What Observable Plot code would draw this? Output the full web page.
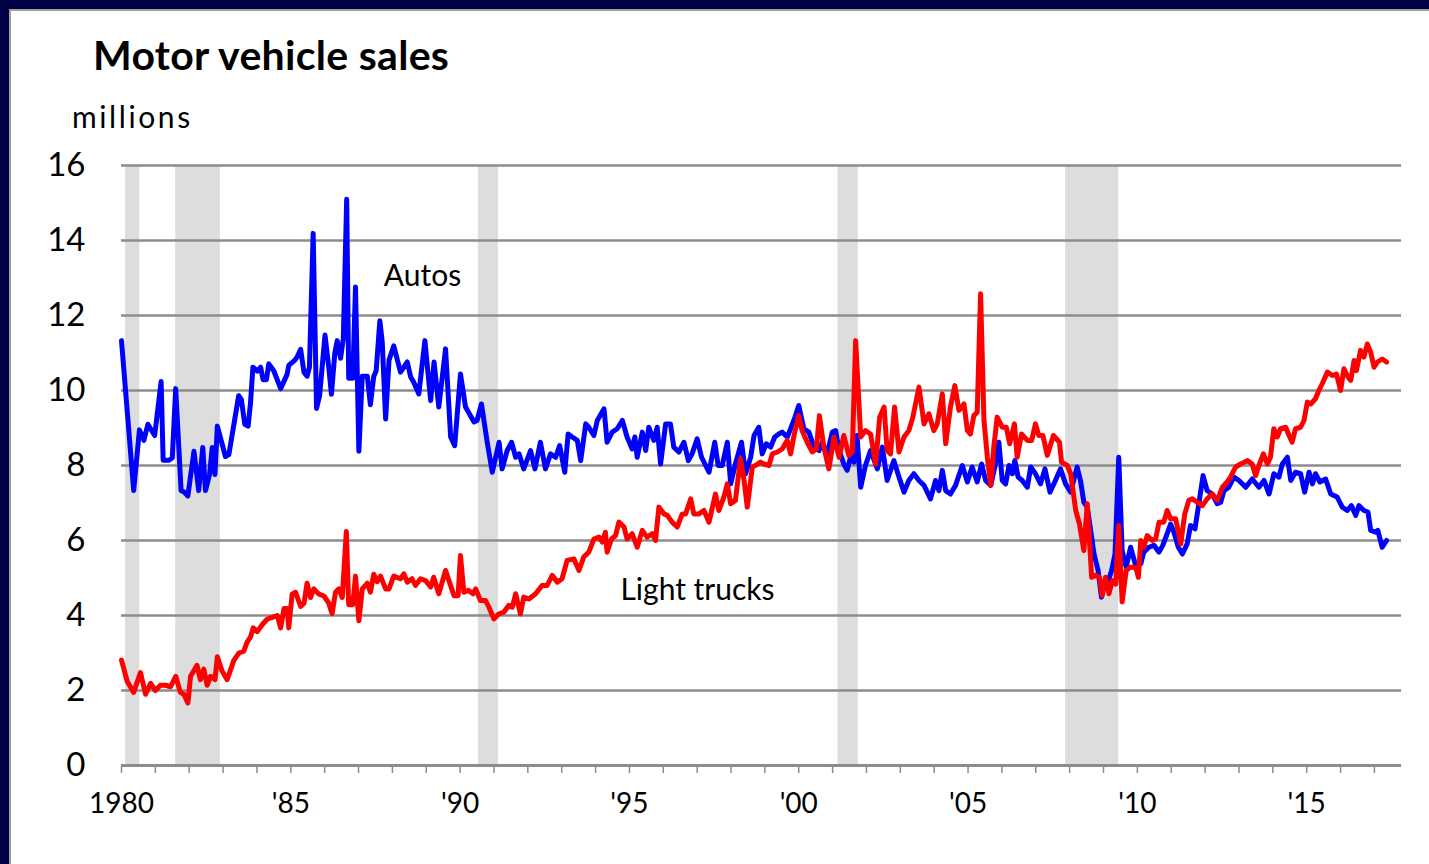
<!DOCTYPE html>
<html>
<head>
<meta charset="utf-8">
<script src="https://cdn.jsdelivr.net/npm/d3@7"></script>
<script src="https://cdn.jsdelivr.net/npm/@observablehq/plot@0.6"></script>
<style>
  html, body { margin: 0; padding: 0; width: 1429px; height: 864px; overflow: hidden; background: #000046; }
  #panel { position: absolute; left: 9px; top: 9px; width: 1418px; height: 853px; background: #ffffff;
           border-top: 2px solid #a0a0a0; border-left: 2px solid #a0a0a0; }
  #chart { position: absolute; left: 0; top: 0; }
  #title { position: absolute; left: 93px; top: 34px; font: bold 41px Lato, sans-serif; line-height: 1; color: #000; letter-spacing: 0.3px; white-space: nowrap; }
  #unit { position: absolute; left: 72px; top: 101px; font: 30px Lato, sans-serif; line-height: 1; color: #000; letter-spacing: 2.6px; white-space: nowrap; }
</style>
</head>
<body>
<div id="panel"></div>
<div id="chart"></div>
<div id="title">Motor vehicle sales</div>
<div id="unit">millions</div>
<script>
// ---- data (decimal years, millions of units, SAAR) ----
const autosYear = [
  1980.00,1980.36,1980.53,1980.66,1980.78,1980.98,1981.17,1981.23,1981.40,1981.50,
  1981.60,1981.76,1981.84,1981.96,1982.14,1982.28,1982.40,1982.48,1982.60,1982.68,
  1982.76,1982.83,1983.07,1983.17,1983.32,1983.46,1983.54,1983.64,1983.74,1983.81,
  1983.88,1984.01,1984.11,1984.18,1984.28,1984.35,1984.50,1984.70,1984.89,1984.94,
  1985.12,1985.19,1985.29,1985.39,1985.48,1985.55,1985.66,1985.76,1985.85,1986.01,
  1986.12,1986.20,1986.30,1986.37,1986.47,1986.55,1986.65,1986.71,1986.83,1986.91,
  1987.01,1987.11,1987.26,1987.35,1987.45,1987.52,1987.63,1987.70,1987.80,1987.90,
  1988.04,1988.24,1988.44,1988.54,1988.63,1988.78,1988.96,1989.13,1989.23,1989.37,
  1989.57,1989.72,1989.84,1990.01,1990.16,1990.41,1990.50,1990.63,1990.80,1990.95,
  1991.15,1991.24,1991.39,1991.52,1991.64,1991.74,1991.88,1992.08,1992.21,1992.37,
  1992.52,1992.67,1992.82,1992.94,1993.09,1993.19,1993.31,1993.46,1993.56,1993.71,
  1993.80,1993.95,1994.05,1994.25,1994.34,1994.49,1994.64,1994.79,1994.93,1995.08,
  1995.16,1995.23,1995.38,1995.48,1995.57,1995.72,1995.82,1995.92,1996.07,1996.21,
  1996.31,1996.46,1996.61,1996.74,1996.85,1997.00,1997.13,1997.35,1997.52,1997.62,
  1997.74,1997.89,1997.99,1998.13,1998.31,1998.43,1998.58,1998.68,1998.82,1998.92,
  1999.04,1999.17,1999.29,1999.41,1999.51,1999.66,1999.76,1999.89,2000.00,2000.15,
  2000.30,2000.45,2000.60,2000.69,2000.84,2000.99,2001.09,2001.19,2001.33,2001.43,
  2001.53,2001.63,2001.72,2001.83,2001.97,2002.12,2002.32,2002.47,2002.61,2002.81,
  2002.96,2003.11,2003.25,2003.40,2003.55,2003.70,2003.89,2004.04,2004.14,2004.24,
  2004.34,2004.48,2004.63,2004.83,2004.98,2005.12,2005.27,2005.40,2005.52,2005.67,
  2005.79,2005.91,2006.01,2006.11,2006.21,2006.31,2006.38,2006.48,2006.60,2006.75,
  2006.85,2006.99,2007.14,2007.27,2007.42,2007.58,2007.73,2007.88,2008.03,2008.22,
  2008.32,2008.42,2008.52,2008.62,2008.72,2008.84,2008.94,2009.04,2009.14,2009.24,
  2009.34,2009.45,2009.55,2009.67,2009.80,2009.95,2010.10,2010.19,2010.34,2010.49,
  2010.64,2010.75,2010.88,2010.98,2011.08,2011.21,2011.33,2011.47,2011.57,2011.70,
  2011.80,2011.94,2012.06,2012.21,2012.36,2012.46,2012.56,2012.70,2012.85,2013.00,
  2013.20,2013.39,2013.59,2013.74,2013.89,2014.03,2014.18,2014.28,2014.43,2014.53,
  2014.67,2014.82,2014.94,2015.07,2015.17,2015.26,2015.39,2015.56,2015.71,2015.90,
  2016.05,2016.20,2016.32,2016.45,2016.54,2016.69,2016.81,2016.89,2017.04,2017.10,
  2017.23,2017.36
];
const autosValue = [
  11.33,7.33,8.95,8.67,9.10,8.80,10.24,8.14,8.14,8.20,
  10.05,7.33,7.30,7.19,8.38,7.33,8.48,7.33,7.76,8.48,
  7.76,9.05,8.24,8.29,9.10,9.86,9.76,9.10,9.05,9.67,
  10.62,10.52,10.62,10.29,10.29,10.71,10.52,10.05,10.43,10.67,
  10.81,10.90,11.10,10.48,10.38,10.62,14.19,9.52,9.86,11.48,
  10.62,9.90,11.00,11.33,10.86,11.38,15.10,10.33,10.33,12.76,
  8.38,10.38,10.38,9.62,10.38,10.52,11.86,11.29,9.24,10.81,
  11.19,10.49,10.76,10.36,10.22,9.91,11.33,9.73,10.76,9.56,
  11.11,8.76,8.53,10.44,9.56,9.16,9.20,9.64,8.62,7.82,
  8.62,7.91,8.40,8.62,8.22,8.31,7.91,8.40,7.91,8.62,
  7.91,8.31,8.22,8.53,7.82,8.84,8.76,8.67,8.13,9.11,
  9.02,8.80,9.20,9.51,8.62,8.89,8.98,9.20,8.76,8.44,
  8.76,8.22,8.89,8.40,9.02,8.67,9.02,8.04,9.11,9.11,
  8.49,8.36,8.62,8.13,8.31,8.71,8.22,7.82,8.62,8.00,
  8.00,8.62,7.51,8.04,8.62,7.78,8.22,8.80,9.02,8.31,
  8.58,8.49,8.76,8.84,8.89,8.76,8.98,9.29,9.60,8.98,
  8.89,8.49,8.40,8.62,8.31,8.89,8.93,8.40,8.04,7.87,
  8.22,8.09,8.80,7.42,8.00,8.40,7.91,8.49,7.60,8.13,
  7.69,7.29,7.60,7.78,7.60,7.47,7.11,7.60,7.33,7.87,
  7.33,7.24,7.47,8.00,7.56,7.96,7.56,8.04,7.60,7.47,
  7.96,8.62,7.60,7.51,8.00,7.78,8.13,7.69,7.60,7.42,
  7.96,7.78,7.51,7.91,7.29,7.60,7.91,7.51,7.29,7.96,
  7.60,7.02,6.89,6.27,5.64,5.20,4.49,4.93,4.93,5.20,
  5.64,8.22,5.73,5.29,5.82,5.33,5.38,5.69,5.82,5.87,
  5.69,5.87,6.18,6.44,6.22,5.82,5.64,5.91,6.40,6.31,
  6.89,7.73,7.33,7.24,6.98,7.02,7.33,7.42,7.69,7.60,
  7.42,7.64,7.42,7.60,7.24,7.78,7.69,8.04,8.22,7.60,
  7.82,7.78,7.29,7.82,7.51,7.78,7.56,7.64,7.24,7.16,
  6.89,6.80,6.93,6.67,6.93,6.80,6.76,6.27,6.22,6.27,
  5.82,6.00
];
const trucksYear = [
  1980.00,1980.17,1980.36,1980.56,1980.71,1980.86,1981.00,1981.15,1981.30,1981.45,
  1981.60,1981.74,1981.84,1981.96,1982.04,1982.23,1982.33,1982.43,1982.53,1982.63,
  1982.76,1982.83,1982.97,1983.12,1983.32,1983.47,1983.61,1983.71,1983.81,1983.89,
  1984.01,1984.16,1984.30,1984.45,1984.60,1984.70,1984.80,1984.89,1984.94,1985.04,
  1985.14,1985.29,1985.39,1985.48,1985.58,1985.68,1985.83,1985.98,1986.12,1986.22,
  1986.32,1986.42,1986.52,1986.64,1986.71,1986.83,1986.91,1987.01,1987.11,1987.26,
  1987.35,1987.45,1987.55,1987.65,1987.80,1987.90,1988.04,1988.24,1988.34,1988.44,
  1988.58,1988.68,1988.83,1988.98,1989.13,1989.22,1989.37,1989.57,1989.67,1989.82,
  1989.94,1990.01,1990.11,1990.24,1990.38,1990.46,1990.60,1990.75,1990.85,1991.00,
  1991.14,1991.29,1991.44,1991.54,1991.64,1991.78,1991.88,1992.03,1992.23,1992.42,
  1992.57,1992.72,1992.87,1993.01,1993.16,1993.36,1993.51,1993.65,1993.80,1993.95,
  1994.10,1994.20,1994.29,1994.34,1994.47,1994.59,1994.69,1994.84,1994.93,1995.08,
  1995.23,1995.38,1995.52,1995.67,1995.77,1995.87,1996.02,1996.12,1996.26,1996.41,
  1996.56,1996.66,1996.81,1996.90,1997.05,1997.20,1997.35,1997.54,1997.64,1997.79,
  1997.89,1997.99,1998.13,1998.28,1998.38,1998.48,1998.63,1998.72,1998.87,1998.97,
  1999.12,1999.22,1999.37,1999.51,1999.66,1999.76,1999.86,2000.00,2000.10,2000.25,
  2000.40,2000.52,2000.61,2000.74,2000.89,2001.04,2001.19,2001.33,2001.48,2001.58,
  2001.68,2001.83,2001.97,2002.12,2002.27,2002.39,2002.52,2002.61,2002.71,2002.83,
  2002.96,2003.11,2003.25,2003.37,2003.55,2003.70,2003.84,2003.99,2004.09,2004.24,
  2004.34,2004.48,2004.61,2004.73,2004.88,2004.98,2005.07,2005.17,2005.27,2005.37,
  2005.47,2005.57,2005.67,2005.76,2005.86,2006.01,2006.13,2006.23,2006.37,2006.45,
  2006.58,2006.75,2006.88,2006.99,2007.09,2007.21,2007.34,2007.52,2007.70,2007.76,
  2007.93,2008.03,2008.18,2008.29,2008.42,2008.52,2008.65,2008.77,2008.88,2008.96,
  2009.06,2009.16,2009.26,2009.36,2009.45,2009.55,2009.67,2009.80,2009.95,2010.03,
  2010.10,2010.19,2010.29,2010.44,2010.54,2010.64,2010.78,2010.88,2010.98,2011.13,
  2011.28,2011.40,2011.52,2011.62,2011.77,2011.92,2012.06,2012.21,2012.36,2012.51,
  2012.65,2012.75,2012.90,2013.05,2013.25,2013.39,2013.49,2013.59,2013.72,2013.84,
  2013.93,2014.03,2014.13,2014.23,2014.38,2014.48,2014.57,2014.67,2014.82,2014.92,
  2015.02,2015.12,2015.26,2015.36,2015.46,2015.61,2015.76,2015.88,2016.00,2016.10,
  2016.22,2016.30,2016.40,2016.47,2016.59,2016.69,2016.79,2016.89,2016.99,2017.09,
  2017.23,2017.36
];
const trucksValue = [
  2.81,2.24,1.95,2.48,1.90,2.19,2.00,2.14,2.14,2.10,
  2.38,1.95,1.90,1.67,2.38,2.67,2.29,2.57,2.14,2.38,
  2.29,2.90,2.52,2.29,2.81,3.00,3.05,3.29,3.43,3.67,
  3.57,3.76,3.90,3.95,4.00,3.67,4.19,4.19,3.67,4.57,
  4.62,4.24,4.33,4.86,4.48,4.71,4.57,4.52,4.33,4.05,
  4.62,4.71,4.48,6.24,4.29,4.29,5.05,3.86,4.71,4.86,
  4.62,5.10,4.90,5.05,4.71,4.71,5.05,4.98,5.11,4.89,
  4.98,4.80,4.98,4.93,4.76,5.02,4.58,5.20,4.93,4.53,
  4.53,5.60,4.62,4.67,4.58,4.71,4.40,4.40,4.22,3.91,
  4.04,4.09,4.27,4.22,4.58,4.04,4.49,4.44,4.58,4.80,
  4.80,5.07,4.89,4.98,5.47,5.51,5.20,5.56,5.69,6.04,
  6.09,5.96,6.22,5.69,6.04,6.13,6.49,6.36,6.04,6.18,
  5.82,6.27,6.09,6.18,6.00,6.89,6.71,6.67,6.49,6.36,
  6.71,6.71,7.11,6.71,6.71,6.80,6.49,7.24,6.80,7.16,
  7.51,6.98,7.07,8.18,7.64,6.89,7.96,8.00,8.09,8.04,
  8.00,8.31,8.36,8.44,8.67,8.31,8.80,9.33,8.93,8.62,
  8.36,8.44,9.33,8.49,7.91,8.76,8.22,8.80,8.27,8.36,
  11.33,8.76,8.93,8.84,8.04,9.29,9.56,8.40,8.31,9.56,
  8.36,8.76,8.93,9.29,10.09,9.11,9.38,8.93,9.11,9.91,
  8.58,9.56,10.13,9.47,9.64,8.93,8.84,9.33,9.42,12.58,
  9.20,8.22,7.47,8.49,9.29,9.02,9.02,8.58,9.11,8.22,
  8.84,8.67,8.67,9.11,8.80,8.80,8.27,8.80,8.62,8.09,
  8.00,7.78,6.80,6.44,5.73,6.98,5.02,5.07,5.02,4.53,
  5.02,4.58,4.93,4.84,6.40,4.36,5.20,5.29,5.29,5.02,
  6.00,5.82,6.13,6.00,6.04,6.49,6.49,6.80,6.58,6.58,
  5.91,6.71,7.07,7.11,7.02,6.93,7.11,7.24,7.07,7.42,
  7.56,7.69,7.96,8.04,8.13,8.04,7.73,8.00,8.31,8.04,
  8.22,8.98,8.76,8.98,9.02,8.80,8.62,8.98,9.02,9.20,
  9.69,9.64,9.78,10.00,10.18,10.49,10.40,10.44,10.00,10.58,
  10.36,10.27,10.80,10.53,11.07,10.89,11.24,11.02,10.62,10.76,
  10.84,10.76
];
const recessionStart = [1980.12, 1981.60, 1990.54, 2001.16, 2007.88];
const recessionEnd   = [1980.54, 1982.92, 1991.13, 2001.76, 2009.45];
const yTicks = [0, 2, 4, 6, 8, 10, 12, 14, 16];
const xTickYears = d3.range(1980, 2018);
const xLabelYears = [1980, 1985, 1990, 1995, 2000, 2005, 2010, 2015];
const xLabelText = ["1980", "'85", "'90", "'95", "'00", "'05", "'10", "'15"];
const seriesLabels = [
  {x: 1988.89, y: 13.04, text: "Autos"},
  {x: 1997.01, y: 4.67, text: "Light trucks"}
];

// ---- tables built from the arrays ----
const autos = autosYear.map((t, i) => ({t, v: autosValue[i]}));
const trucks = trucksYear.map((t, i) => ({t, v: trucksValue[i]}));
const recessions = recessionStart.map((s, i) => ({s, e: recessionEnd[i]}));
const labelMap = new Map(xLabelYears.map((y, i) => [y, xLabelText[i]]));

const chart = Plot.plot({
  width: 1429,
  height: 864,
  marginLeft: 121,
  marginRight: 28,
  marginTop: 165,
  marginBottom: 99,
  x: {domain: [1980, 2017.8]},
  y: {domain: [0, 16]},
  style: {background: "transparent", fontFamily: "Lato, sans-serif", color: "#000", overflow: "visible"},
  marks: [
    Plot.rect(recessions, {x1: "s", x2: "e", y1: 0, y2: 16, fill: "#dddddd"}),
    Plot.ruleY(yTicks.filter(d => d > 0), {stroke: "#8c8c8c", strokeWidth: 2.5}),
    Plot.ruleY([0], {stroke: "#8c8c8c", strokeWidth: 3}),
    Plot.axisY(yTicks, {tickSize: 0, tickPadding: 36, fontSize: 33, fill: "#000"}),
    Plot.axisX(xTickYears, {tickSize: 8, tickPadding: 20, fontSize: 28, stroke: "#8c8c8c", strokeWidth: 1.5, fill: "#000",
      tickFormat: d => labelMap.get(d) ?? ""}),
    Plot.line(autos, {x: "t", y: "v", stroke: "#0000ff", strokeWidth: 5, strokeLinejoin: "round"}),
    Plot.line(trucks, {x: "t", y: "v", stroke: "#ff0000", strokeWidth: 5, strokeLinejoin: "round"}),
    Plot.text(seriesLabels, {x: "x", y: "y", text: "text", fontSize: 30, fill: "#000"})
  ]
});
document.getElementById("chart").append(chart);
</script>
</body>
</html>
